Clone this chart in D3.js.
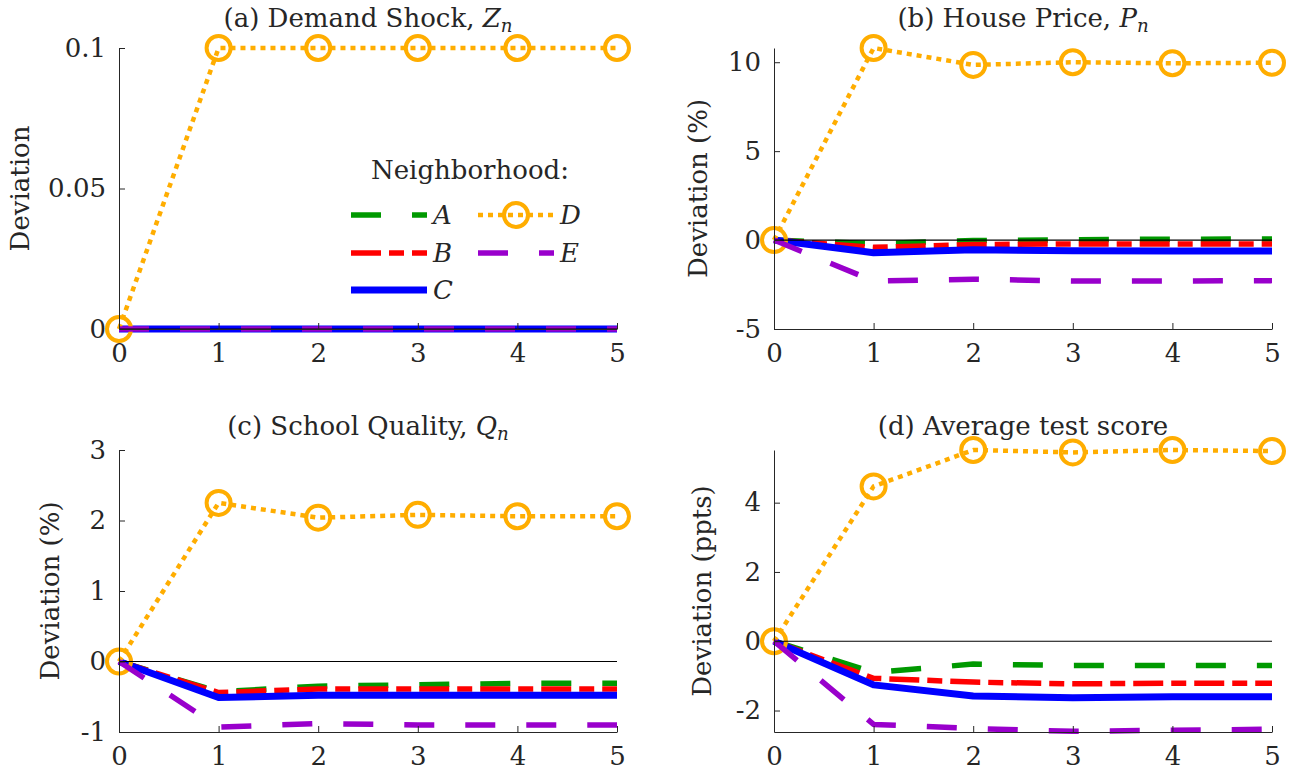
<!DOCTYPE html>
<html>
<head>
<meta charset="utf-8">
<script src="https://cdn.jsdelivr.net/npm/d3@7"></script>
<style>
  body { margin: 0; background: #fff; }
  svg text { font-family: "DejaVu Serif", "Liberation Serif", serif; fill: #262626; }
  .axis path, .axis line { stroke: #262626; stroke-width: 1; }
</style>
</head>
<body>
<div id="chart"></div>
<script>
// periods after the shock
const steps = [0, 1, 2, 3, 4, 5];
const hoods = ["A", "B", "C", "D", "E"];

// rows follow hoods: A, B, C, D, E
const demandShock = [
  [0, 0, 0, 0, 0, 0],
  [0, 0, 0, 0, 0, 0],
  [0, 0, 0, 0, 0, 0],
  [0, 0.1, 0.1, 0.1, 0.1, 0.1],
  [0, 0, 0, 0, 0, 0]
];
const housePrice = [
  [0, -0.2, -0.03, 0.02, 0.05, 0.06],
  [0, -0.41, -0.25, -0.22, -0.22, -0.22],
  [0, -0.71, -0.54, -0.6, -0.62, -0.62],
  [0, 10.8, 9.85, 10.0, 9.94, 9.97],
  [0, -2.3, -2.2, -2.3, -2.3, -2.28]
];
const schoolQuality = [
  [0, -0.43, -0.35, -0.33, -0.31, -0.31],
  [0, -0.44, -0.39, -0.39, -0.39, -0.39],
  [0, -0.51, -0.48, -0.48, -0.48, -0.48],
  [0, 2.25, 2.04, 2.08, 2.06, 2.06],
  [0, -0.93, -0.88, -0.9, -0.9, -0.9]
];
const testScore = [
  [0, -0.9, -0.66, -0.7, -0.7, -0.7],
  [0, -1.07, -1.18, -1.23, -1.21, -1.21],
  [0, -1.26, -1.58, -1.63, -1.6, -1.6],
  [0, 4.47, 5.52, 5.45, 5.52, 5.49],
  [0, -2.4, -2.52, -2.6, -2.57, -2.54]
];

const titleText = ["(a) Demand Shock, ", "(b) House Price, ", "(c) School Quality, ", "(d) Average test score"];
const titleVar = ["Z", "P", "Q", ""];
const titleSub = ["n", "n", "n", ""];
const yLabels = ["Deviation", "Deviation (%)", "Deviation (%)", "Deviation (ppts)"];
const yTicks = [[0, 0.05, 0.1], [-5, 0, 5, 10], [-1, 0, 1, 2, 3], [-2, 0, 2, 4]];
const yDomains = [[0, 0.1], [-5, 10.8], [-1, 3], [-2.62, 5.52]];
const panelData = [demandShock, housePrice, schoolQuality, testScore];

// line styles per neighborhood
const colors = ["#009900", "#ff0000", "#0000ff", "#ffad00", "#9900cc"];
const dashes = ["30,31", "30,8,15,8", null, "5,5", "30,31"];
const widths = [5.5, 5.5, 7, 4.5, 5.5];

const W = 1297, H = 773;
const FONT = 26;
const FAMILY = "DejaVu Serif, Liberation Serif, serif";
const frames = [
  { x0: 119, x1: 617, y0: 48, y1: 329, labX: 20 },
  { x0: 774, x1: 1272, y0: 48, y1: 329, labX: 698 },
  { x0: 119, x1: 617, y0: 450, y1: 732, labX: 50 },
  { x0: 774, x1: 1272, y0: 450, y1: 732, labX: 702 }
];

const svg = d3.select("#chart").append("svg")
  .attr("width", W).attr("height", H)
  .attr("viewBox", `0 0 ${W} ${H}`)
  .attr("font-family", FAMILY);

function drawSeries(g, pts, i, r) {
  const path = g.append("path")
    .datum(pts)
    .attr("fill", "none")
    .attr("stroke", colors[i])
    .attr("stroke-width", widths[i])
    .attr("stroke-linejoin", "round")
    .attr("d", d3.line());
  if (dashes[i]) path.attr("stroke-dasharray", dashes[i]);
  if (hoods[i] === "D") {
    g.selectAll(null).data(r ? r : pts).join("circle")
      .attr("cx", d => d[0]).attr("cy", d => d[1])
      .attr("r", 12)
      .attr("fill", "none")
      .attr("stroke", colors[i])
      .attr("stroke-width", 4);
  }
}

panelData.forEach((rows, p) => {
  const f = frames[p];
  const x = d3.scaleLinear().domain([0, 5]).range([f.x0, f.x1]);
  const y = d3.scaleLinear().domain(yDomains[p]).range([f.y1, f.y0]);
  const g = svg.append("g");

  // series
  rows.forEach((vals, i) => {
    const pts = steps.map((s, k) => [x(s), y(vals[k])]);
    drawSeries(g.append("g"), pts, i);
  });

  // zero line
  g.append("line")
    .attr("x1", x(0)).attr("x2", x(5))
    .attr("y1", y(0)).attr("y2", y(0))
    .attr("stroke", "#000").attr("stroke-width", 1.2);

  // axes
  g.append("g").attr("class", "axis")
    .attr("transform", `translate(0,${f.y1})`)
    .call(d3.axisBottom(x).tickValues(steps).tickFormat(d3.format("d"))
      .tickSizeInner(-6).tickSizeOuter(0).tickPadding(15));
  g.append("g").attr("class", "axis")
    .attr("transform", `translate(${f.x0},0)`)
    .call(d3.axisLeft(y).tickValues(yTicks[p]).tickFormat(v => String(v))
      .tickSizeInner(-6).tickSizeOuter(0).tickPadding(13));
  g.selectAll(".axis").attr("font-family", FAMILY).attr("font-size", FONT);
  g.selectAll(".axis text").attr("fill", "#262626");

  // title
  const t = g.append("text")
    .attr("x", (f.x0 + f.x1) / 2)
    .attr("y", f.y0 - (p < 2 ? 21 : 15))
    .attr("text-anchor", "middle")
    .attr("font-size", FONT);
  t.append("tspan").text(titleText[p]);
  if (titleVar[p]) {
    t.append("tspan").attr("font-style", "italic").text(titleVar[p]);
    t.append("tspan").attr("font-style", "italic")
      .attr("font-size", FONT * 0.7).attr("dy", 5).text(titleSub[p]);
  }

  // y label
  g.append("text")
    .attr("transform", `translate(${f.labX},${(f.y0 + f.y1) / 2}) rotate(-90)`)
    .attr("text-anchor", "middle")
    .attr("dy", "0.35em")
    .attr("font-size", FONT)
    .text(yLabels[p]);
});

// legend in panel (a)
const leg = svg.append("g");
leg.append("text")
  .attr("x", 470).attr("y", 179)
  .attr("text-anchor", "middle")
  .attr("font-size", FONT)
  .text("Neighborhood:");
const legPos = [
  { x: 351, y: 215 }, { x: 351, y: 253 }, { x: 351, y: 290 },
  { x: 478, y: 215 }, { x: 478, y: 253 }
];
hoods.forEach((h, i) => {
  const lp = legPos[i];
  const pts = [[lp.x, lp.y], [lp.x + 76, lp.y]];
  drawSeries(leg.append("g"), pts, i, [[lp.x + 38, lp.y]]);
  leg.append("text")
    .attr("x", lp.x + 82).attr("y", lp.y)
    .attr("dy", "0.35em")
    .attr("font-size", FONT)
    .attr("font-style", "italic")
    .text(h);
});
</script>
</body>
</html>
